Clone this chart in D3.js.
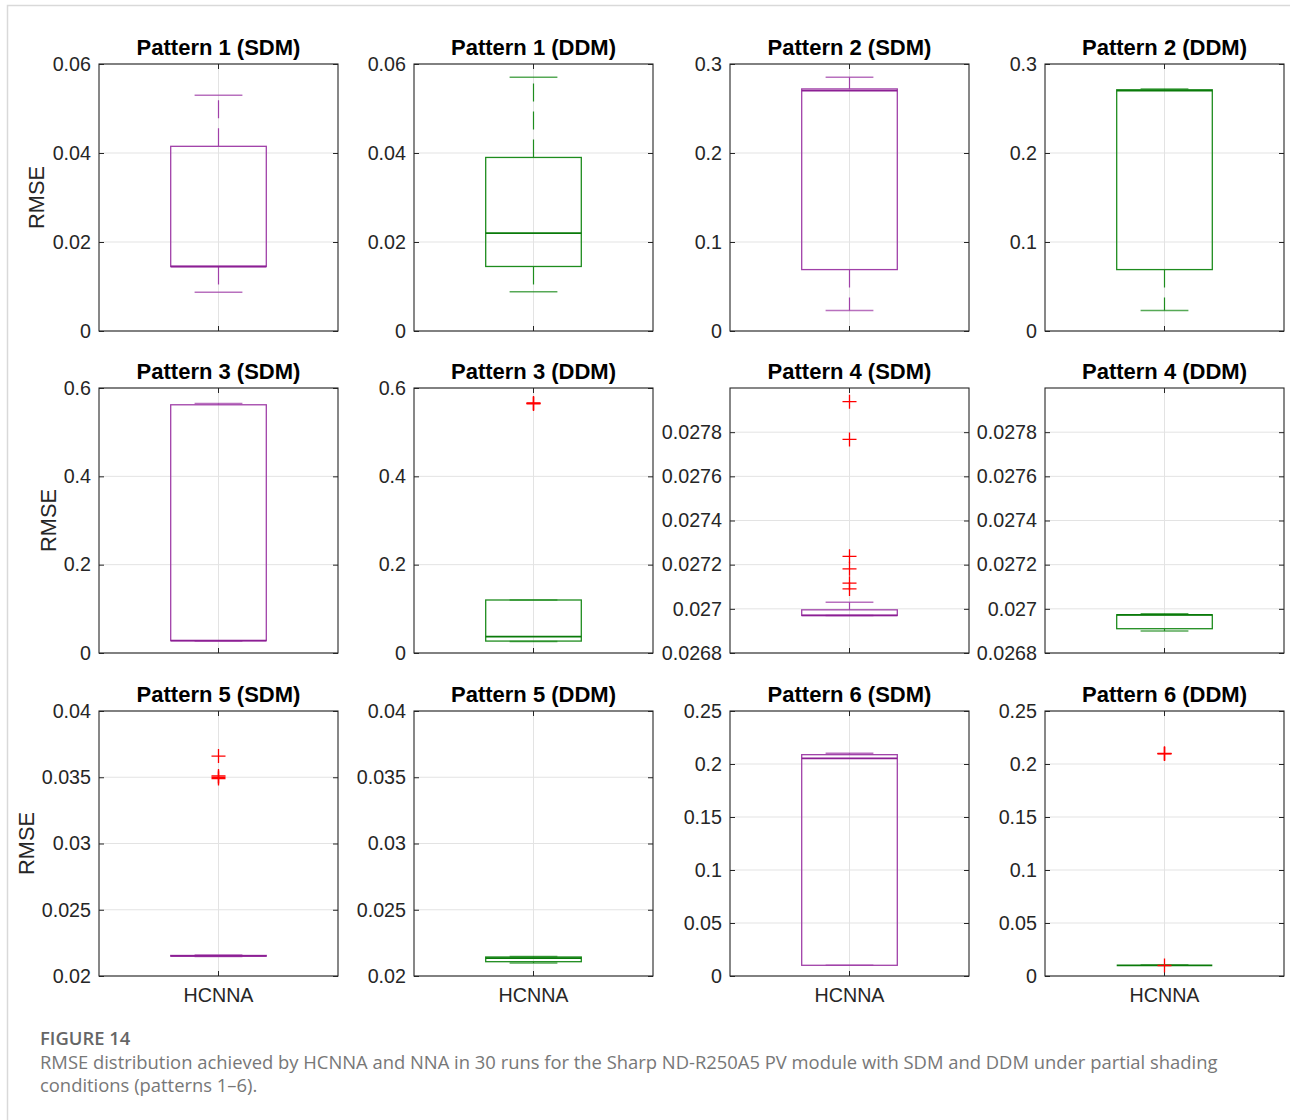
<!DOCTYPE html>
<html><head><meta charset="utf-8">
<script src="https://cdn.jsdelivr.net/npm/d3@7"></script>
<style>
html,body{margin:0;padding:0;background:#fff;}
svg{display:block;}
</style></head>
<body>
<script>
// ---------------- DATA ----------------
const panelTitles = [
  "Pattern 1 (SDM)","Pattern 1 (DDM)","Pattern 2 (SDM)","Pattern 2 (DDM)",
  "Pattern 3 (SDM)","Pattern 3 (DDM)","Pattern 4 (SDM)","Pattern 4 (DDM)",
  "Pattern 5 (SDM)","Pattern 5 (DDM)","Pattern 6 (SDM)","Pattern 6 (DDM)"
];
const models = ["SDM","DDM","SDM","DDM","SDM","DDM","SDM","DDM","SDM","DDM","SDM","DDM"];
const category = ["HCNNA"];
const yDomains = [
  [0,0.06],[0,0.06],[0,0.3],[0,0.3],
  [0,0.6],[0,0.6],[0.0268,0.0280],[0.0268,0.0280],
  [0.02,0.04],[0.02,0.04],[0,0.25],[0,0.25]
];
const yTicks = [
  [0,0.02,0.04,0.06],[0,0.02,0.04,0.06],[0,0.1,0.2,0.3],[0,0.1,0.2,0.3],
  [0,0.2,0.4,0.6],[0,0.2,0.4,0.6],
  [0.0268,0.027,0.0272,0.0274,0.0276,0.0278],[0.0268,0.027,0.0272,0.0274,0.0276,0.0278],
  [0.02,0.025,0.03,0.035,0.04],[0.02,0.025,0.03,0.035,0.04],
  [0,0.05,0.1,0.15,0.2,0.25],[0,0.05,0.1,0.15,0.2,0.25]
];
const whiskerLow  = [0.0087,0.0088,0.023,0.023,0.027,0.026,0.02697,0.02690,0.02148,0.02098,0.0101,0.0101];
const q1          = [0.0145,0.0145,0.069,0.069,0.028,0.027,0.02697,0.02691,0.02150,0.02108,0.0101,0.0101];
const medians     = [0.0145,0.022,0.270,0.270,0.028,0.037,0.02697,0.026973,0.02152,0.02135,0.2054,0.0101];
const q3          = [0.0415,0.039,0.272,0.271,0.562,0.120,0.0269955,0.026973,0.02155,0.021434,0.2088,0.0101];
const whiskerHigh = [0.053,0.057,0.285,0.272,0.565,0.120,0.02703,0.026978,0.02158,0.02148,0.2101,0.0101];
const outliers = [
  [],[],[],[],
  [],[0.5650,0.5640,0.5660],
  [0.027938,0.027767,0.027238,0.027181,0.027116,0.02709],[],
  [0.0366,0.0351,0.0350,0.0349],[],
  [],[0.2098,0.2095,0.2100,0.0099]
];

// ---------------- LAYOUT ----------------
const W = 1290, H = 1120;
const colLeft = [99, 414, 730, 1045];
const plotW = 239;
const rowTop = [64, 388, 711];
const rowH = [267, 265, 265];
const colors = {SDM:"#a040a8", DDM:"#1e8c1e"};
const medColors = {SDM:"#8c1f94", DDM:"#0a7a0a"};
const fontMain = "'Liberation Sans', Arial, Helvetica, sans-serif";
const tickFs = "19.7px";

const svg = d3.select("body").append("svg").attr("width", W).attr("height", H);
svg.append("rect").attr("width", W).attr("height", H).attr("fill", "#fff");
// card frame
svg.append("path").attr("d", "M7.5,1120 L7.5,5.5 L1290,5.5").attr("fill","none").attr("stroke","#d9d9d9").attr("stroke-width",1.5);

function fmt(v){ return (+v.toPrecision(6)).toString(); }

panelTitles.forEach((title, i) => {
  const r = Math.floor(i/4), c = i%4;
  const x0 = colLeft[c], y0 = rowTop[r], h = rowH[r];
  const g = svg.append("g").attr("transform", `translate(${x0},${y0})`);
  const y = d3.scaleLinear().domain(yDomains[i]).range([h, 0]);
  const x = d3.scaleBand().domain(category).range([0, plotW]).paddingInner(0).paddingOuter(0);
  const cx = x("HCNNA") + x.bandwidth()/2;
  const boxW = 0.4 * plotW;
  const capW = boxW/2;
  const col = colors[models[i]], mcol = medColors[models[i]];

  // grid
  g.append("g").selectAll("line").data(yTicks[i]).join("line")
    .attr("x1",0).attr("x2",plotW).attr("y1",d=>y(d)).attr("y2",d=>y(d))
    .attr("stroke","#e3e3e3").attr("stroke-width",1);
  g.append("line").attr("x1",cx).attr("x2",cx).attr("y1",0).attr("y2",h)
    .attr("stroke","#e3e3e3").attr("stroke-width",1);

  // y axis left
  const yAxis = d3.axisLeft(y).tickValues(yTicks[i]).tickFormat(fmt).tickSizeInner(-5).tickSizeOuter(0).tickPadding(8);
  const ya = g.append("g").call(yAxis);
  ya.select(".domain").remove();
  ya.selectAll(".tick line").attr("stroke","#262626");
  ya.selectAll("text").attr("font-family",fontMain).attr("font-size",tickFs).attr("fill","#262626");
  // right ticks
  const yr = g.append("g").attr("transform",`translate(${plotW},0)`)
    .call(d3.axisRight(y).tickValues(yTicks[i]).tickFormat("").tickSizeInner(-5).tickSizeOuter(0));
  yr.select(".domain").remove();
  yr.selectAll(".tick line").attr("stroke","#262626");
  // x axis bottom
  const xa = g.append("g").attr("transform",`translate(0,${h})`)
    .call(d3.axisBottom(x).tickSizeInner(-5).tickSizeOuter(0).tickPadding(12.5));
  xa.select(".domain").remove();
  xa.selectAll(".tick line").attr("stroke","#262626");
  xa.selectAll("text").attr("font-family",fontMain).attr("font-size",tickFs).attr("fill","#262626")
    .style("display", r===2 ? null : "none");
  const xt = g.append("g").call(d3.axisTop(x).tickSizeInner(-5).tickSizeOuter(0).tickFormat(""));
  xt.select(".domain").remove();
  xt.selectAll(".tick line").attr("stroke","#262626");

  // whiskers (dashed)
  g.append("line").attr("x1",cx).attr("x2",cx).attr("y1",y(q3[i])).attr("y2",y(whiskerHigh[i]))
    .attr("stroke",col).attr("stroke-width",1.2).attr("stroke-dasharray","18,10");
  g.append("line").attr("x1",cx).attr("x2",cx).attr("y1",y(q1[i])).attr("y2",y(whiskerLow[i]))
    .attr("stroke",col).attr("stroke-width",1.2).attr("stroke-dasharray","18,10");
  // caps
  [whiskerHigh[i], whiskerLow[i]].forEach(v => {
    g.append("line").attr("x1",cx-capW/2).attr("x2",cx+capW/2).attr("y1",y(v)).attr("y2",y(v))
      .attr("stroke",col).attr("stroke-width",1.5).attr("stroke-opacity",0.75);
  });
  // box
  g.append("rect").attr("x",cx-boxW/2).attr("width",boxW)
    .attr("y",y(q3[i])).attr("height",Math.max(0,y(q1[i])-y(q3[i])))
    .attr("fill","none").attr("stroke",col).attr("stroke-width",1.3);
  // median
  g.append("line").attr("x1",cx-boxW/2).attr("x2",cx+boxW/2).attr("y1",y(medians[i])).attr("y2",y(medians[i]))
    .attr("stroke",mcol).attr("stroke-width",1.8);

  // outliers
  const arm = 7;
  g.append("g").selectAll("path").data(outliers[i]).join("path")
    .attr("d", d => `M${cx-arm},${y(d)}H${cx+arm}M${cx},${y(d)-arm}V${y(d)+arm}`)
    .attr("stroke","#ff0000").attr("stroke-width",1.3).attr("fill","none");

  // frame
  g.append("rect").attr("width",plotW).attr("height",h).attr("fill","none")
    .attr("stroke","#262626").attr("stroke-width",1.1);

  // title
  g.append("text").attr("x",plotW/2).attr("y",-9).attr("text-anchor","middle")
    .attr("font-family",fontMain).attr("font-weight","bold").attr("font-size","22px").attr("fill","#000")
    .text(title);

  // y label
  if (c === 0) {
    const lx = [-55, -43, -65][r];
    g.append("text").attr("transform",`translate(${lx},${h/2}) rotate(-90)`).attr("text-anchor","middle")
      .attr("font-family",fontMain).attr("font-size","21.8px").attr("fill","#262626").text("RMSE");
  }
});

// caption
const capFont = "'Open Sans', 'Noto Sans', sans-serif";
svg.append("text").attr("x",40).attr("y",1045).attr("font-family",capFont).attr("font-size","18.4px")
  .attr("fill","#666").attr("font-weight","600").text("FIGURE 14");
svg.append("text").attr("x",40).attr("y",1069).attr("font-family",capFont).attr("font-size","18.4px")
  .attr("fill","#777").text("RMSE distribution achieved by HCNNA and NNA in 30 runs for the Sharp ND-R250A5 PV module with SDM and DDM under partial shading");
svg.append("text").attr("x",40).attr("y",1092).attr("font-family",capFont).attr("font-size","18.4px")
  .attr("fill","#777").text("conditions (patterns 1\u20136).");
</script>
</body></html>
